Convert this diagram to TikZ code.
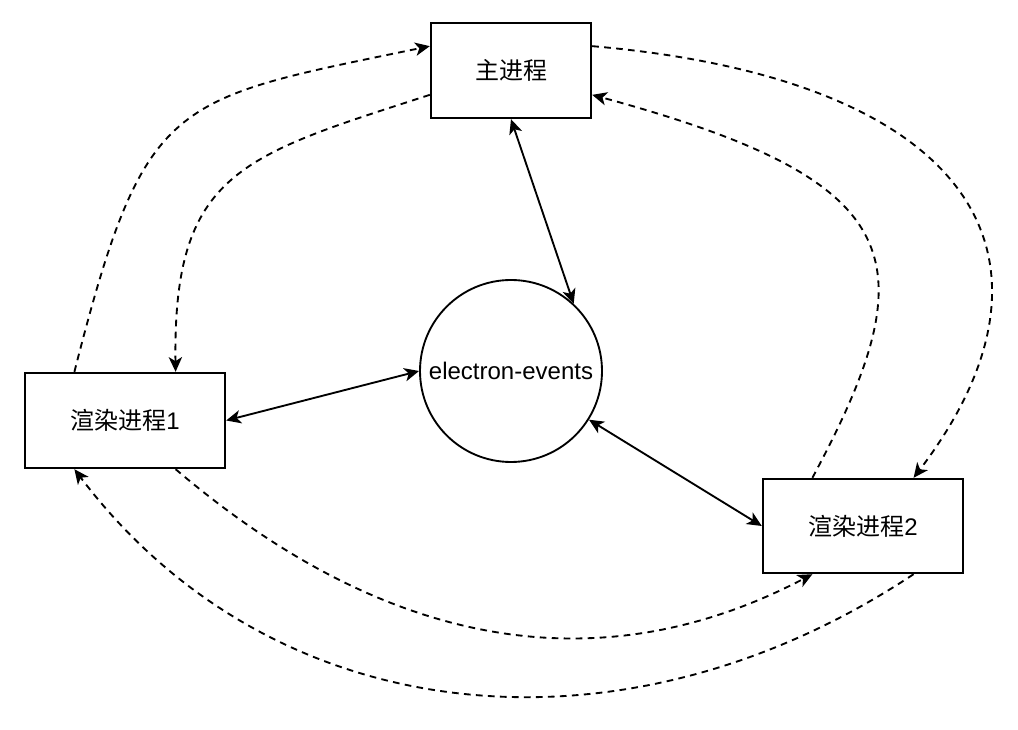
\documentclass[tikz,border=0pt]{standalone}
\usepackage{fontspec}
\setmainfont{Liberation Sans}
\newfontfamily\cjk{Noto Sans CJK SC}
\usetikzlibrary{arrows.meta,calc}
\begin{document}
\begin{tikzpicture}[x=0.75pt,y=-0.75pt,
  >={Stealth[length=11pt,width=10pt,inset=3pt]},
  procbox/.style={draw,line width=1.8pt,inner sep=0pt,font=\fontsize{18}{22}\selectfont},
  evcircle/.style={draw,circle,line width=1.4pt,minimum size=136.5pt,inner sep=0pt,font=\fontsize{18}{22}\selectfont},
  solidarr/.style={line width=1.4pt,<->},
  dasharr/.style={line width=1.4pt,dash pattern=on 5pt off 4pt,->},
]
\useasboundingbox (0,0) rectangle (1018,730);
\node[procbox,minimum width=120pt,minimum height=71.25pt] (main) at (511,70.5) {{\cjk 主进程}};
\node[procbox,minimum width=150pt,minimum height=71.25pt] (r1) at (125,420.5) {{\cjk 渲染进程}1};
\node[procbox,minimum width=150pt,minimum height=70.5pt] (r2) at (863,526) {{\cjk 渲染进程}2};
\node[evcircle] (ev) at (511,371) {electron-events};

% solid double arrows
\draw[solidarr] (main.south) -- (ev.47);
\draw[solidarr] (r1.east) -- (ev.west);
\draw[solidarr] (ev.-32) -- (r2.west);

% dashed curves
\coordinate (r1nw) at ($(r1.north west)!0.25!(r1.north east)$);
\coordinate (r1ne) at ($(r1.north west)!0.75!(r1.north east)$);
\coordinate (r1sw) at ($(r1.south west)!0.25!(r1.south east)$);
\coordinate (r1se) at ($(r1.south west)!0.75!(r1.south east)$);
\coordinate (r2nw) at ($(r2.north west)!0.25!(r2.north east)$);
\coordinate (r2ne) at ($(r2.north west)!0.75!(r2.north east)$);
\coordinate (r2sw) at ($(r2.south west)!0.25!(r2.south east)$);
\coordinate (r2se) at ($(r2.south west)!0.75!(r2.south east)$);
\coordinate (mlu) at ($(main.north west)!0.25!(main.south west)$);
\coordinate (mld) at ($(main.north west)!0.75!(main.south west)$);
\coordinate (mru) at ($(main.north east)!0.25!(main.south east)$);
\coordinate (mrd) at ($(main.north east)!0.75!(main.south east)$);

\draw[dasharr] (r1nw) .. controls (145,95) and (170,100) .. (mlu);
\draw[dasharr] (mld) .. controls (241,156) and (173,172) .. (r1ne);
\draw[dasharr] (mru) .. controls (980,80) and (1078,262) .. (r2ne);
\draw[dasharr] (r2nw) .. controls (930,259) and (909,181) .. (mrd);
\draw[dasharr] (r1se) .. controls (403,663) and (616,677) .. (r2sw);
\draw[dasharr] (r2se) .. controls (623,767) and (273,732) .. (r1sw);
\end{tikzpicture}
\end{document}
